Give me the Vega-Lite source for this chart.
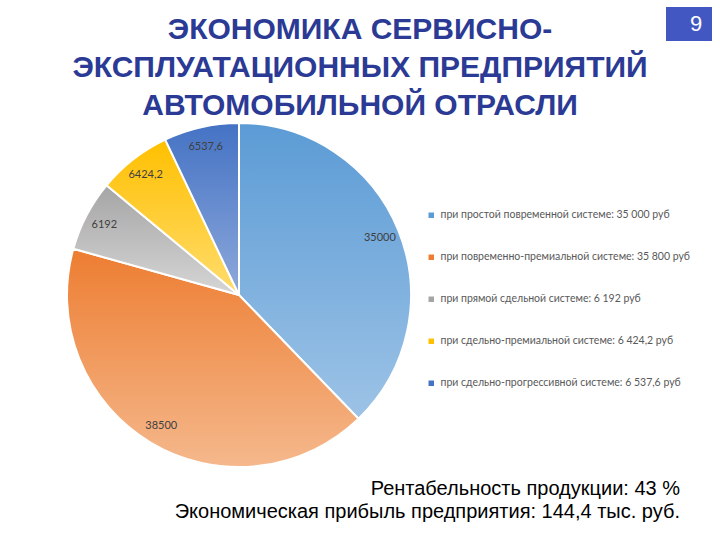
{
  "$schema": "https://vega.github.io/schema/vega-lite/v6.json",
  "background": "#ffffff",
  "padding": {"left": 63, "top": 5, "right": 0, "bottom": 0},
  "config": {"view": {"stroke": null}},
  "spacing": 0,
  "vconcat": [
    {
      "bounds": "flush",
      "spacing": 12,
      "hconcat": [
        {
          "width": 586,
          "height": 113,
          "data": {
            "values": [
              {"row": 1, "line": "ЭКОНОМИКА СЕРВИСНО-"},
              {"row": 2, "line": "ЭКСПЛУАТАЦИОННЫХ ПРЕДПРИЯТИЙ"},
              {"row": 3, "line": "АВТОМОБИЛЬНОЙ ОТРАСЛИ"}
            ]
          },
          "mark": {"type": "text", "clip": true, "font": "Liberation Sans", "fontSize": 30, "fontWeight": "bold", "color": "#2B3A94", "baseline": "middle"},
          "encoding": {
            "y": {"field": "row", "type": "quantitative", "scale": {"domain": [0.368, 3.342], "reverse": true}, "axis": null},
            "text": {"field": "line", "type": "nominal"}
          }
        },
        {
          "width": 48,
          "height": 36,
          "data": {"values": [{"page": "9"}]},
          "layer": [
            {
              "mark": {"type": "rect", "fill": "#4357C2", "stroke": "#ffffff", "strokeWidth": 2}
            },
            {
              "mark": {"type": "text", "fontSize": 22, "font": "Liberation Sans", "color": "#ffffff", "dx": 7},
              "encoding": {"text": {"field": "page", "type": "nominal"}}
            }
          ]
        }
      ]
    },
    {
      "width": 344,
      "height": 344,
      "data": {
        "values": [
          {"idx": 1, "cat": "при простой повременной системе: 35 000 руб", "value": 35000, "label": "35000"},
          {"idx": 2, "cat": "при повременно-премиальной системе: 35 800 руб", "value": 38500, "label": "38500"},
          {"idx": 3, "cat": "при прямой сдельной системе: 6 192 руб", "value": 6192, "label": "6192"},
          {"idx": 4, "cat": "при сдельно-премиальной системе: 6 424,2 руб", "value": 6424.2, "label": "6424,2"},
          {"idx": 5, "cat": "при сдельно-прогрессивной системе: 6 537,6 руб", "value": 6537.6, "label": "6537,6"}
        ]
      },
      "encoding": {
        "theta": {"field": "value", "type": "quantitative", "stack": true},
        "order": {"field": "idx", "type": "quantitative"}
      },
      "layer": [
        {
          "mark": {"type": "arc", "outerRadius": 172},
          "encoding": {
            "color": {
              "field": "cat",
              "type": "nominal",
              "sort": null,
              "scale": {"range": ["#5B9BD5", "#ED7D31", "#A5A5A5", "#FFC000", "#4472C4"]},
              "legend": {
                "title": null,
                "orient": "none",
                "legendX": 359,
                "legendY": 204,
                "symbolType": "square",
                "symbolSize": 30,
                "symbolStrokeWidth": 0,
                "labelFont": "Lato",
                "labelFontSize": 10.5,
                "labelColor": "#595959",
                "labelLimit": 400,
                "rowPadding": 31,
                "labelOffset": 4
              }
            }
          }
        },
        {
          "mark": {"type": "arc", "outerRadius": 172, "stroke": "#ffffff", "strokeWidth": 2},
          "encoding": {
            "fill": {
              "condition": [
                {"test": "datum.idx == 1", "value": {"gradient": "linear", "x1": 0, "y1": 0, "x2": 0, "y2": 1, "stops": [{"offset": 0, "color": "#5B9BD5"}, {"offset": 1, "color": "#9DC3E6"}]}},
                {"test": "datum.idx == 2", "value": {"gradient": "linear", "x1": 0, "y1": 0, "x2": 0, "y2": 1, "stops": [{"offset": 0, "color": "#ED7D31"}, {"offset": 1, "color": "#F5B88C"}]}},
                {"test": "datum.idx == 3", "value": {"gradient": "linear", "x1": 0, "y1": 0, "x2": 0, "y2": 1, "stops": [{"offset": 0, "color": "#A5A5A5"}, {"offset": 1, "color": "#D6D6D6"}]}},
                {"test": "datum.idx == 4", "value": {"gradient": "linear", "x1": 0, "y1": 0, "x2": 0, "y2": 1, "stops": [{"offset": 0, "color": "#FFC000"}, {"offset": 1, "color": "#FFDC6E"}]}}
              ],
              "value": {"gradient": "linear", "x1": 0, "y1": 0, "x2": 0, "y2": 1, "stops": [{"offset": 0, "color": "#4472C4"}, {"offset": 1, "color": "#8EA9DB"}]}
            }
          }
        },
        {
          "mark": {"type": "text", "radius": 152, "font": "Lato", "fontSize": 11, "color": "#404040"},
          "encoding": {
            "text": {"field": "label", "type": "nominal"}
          }
        }
      ]
    },
    {
      "width": 613,
      "height": 66,
      "data": {
        "values": [
          {"row": 1, "line": "Рентабельность продукции: 43 %"},
          {"row": 2, "line": "Экономическая прибыль предприятия: 144,4 тыс. руб."}
        ]
      },
      "mark": {"type": "text", "align": "right", "baseline": "middle", "font": "Liberation Sans", "fontSize": 20, "color": "#000000"},
      "encoding": {
        "x": {"datum": 1, "type": "quantitative", "scale": {"domain": [0, 1]}, "axis": null},
        "y": {"field": "row", "type": "quantitative", "scale": {"domain": [0.255, 3.064], "reverse": true}, "axis": null},
        "text": {"field": "line", "type": "nominal"}
      }
    }
  ]
}
